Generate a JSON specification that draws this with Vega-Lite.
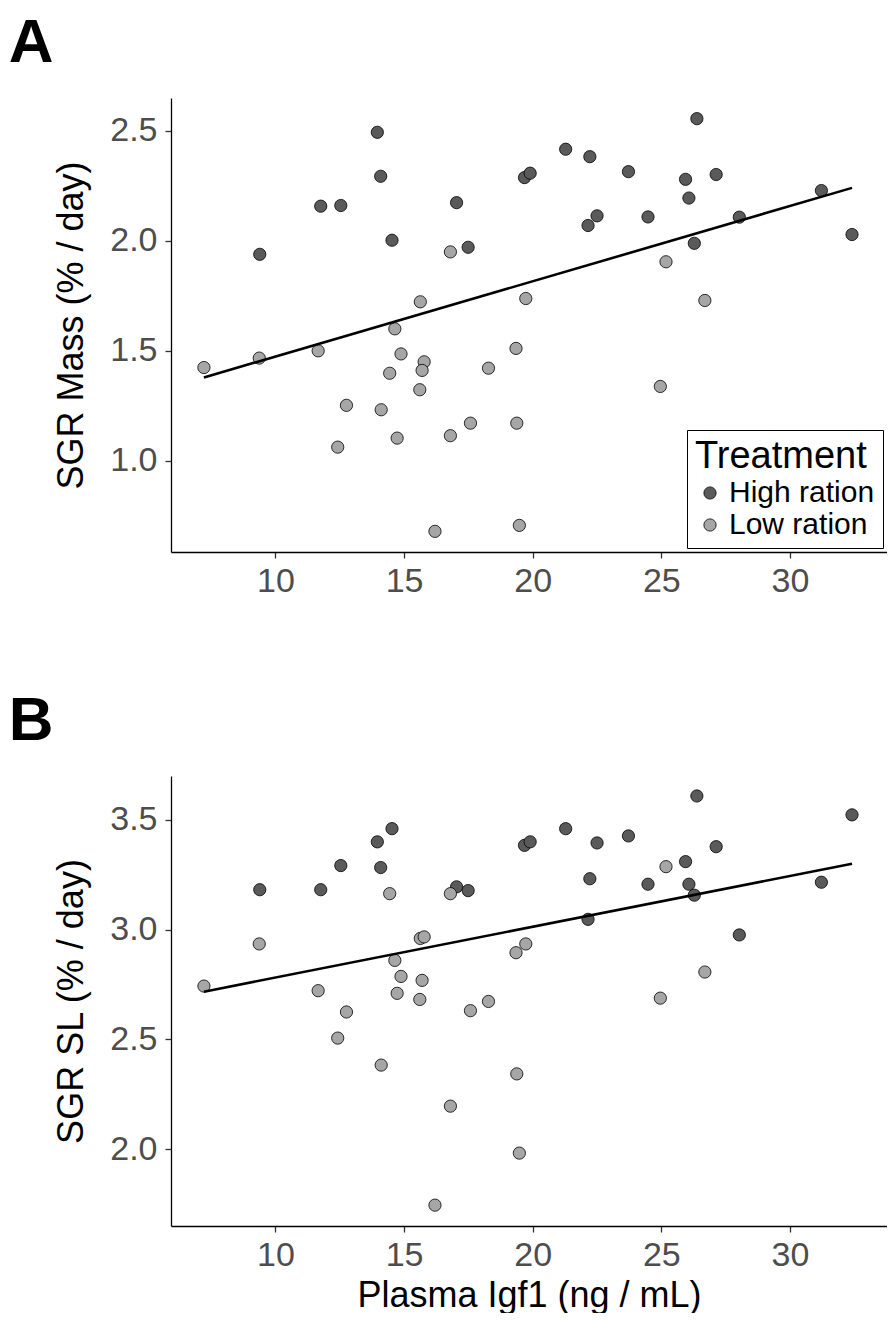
{
  "$schema": "https://vega.github.io/schema/vega-lite/v6.json",
  "padding": {"left": 8, "top": 12, "right": 0, "bottom": 0},
  "background": "white",
  "datasets": {
    "fish": [
      {"igf": 7.22, "mass": 1.424, "sl": 2.743, "treatment": "Low ration"},
      {"igf": 9.39, "mass": 1.939, "sl": 3.182, "treatment": "High ration"},
      {"igf": 9.37, "mass": 1.467, "sl": 2.935, "treatment": "Low ration"},
      {"igf": 11.76, "mass": 2.158, "sl": 3.182, "treatment": "High ration"},
      {"igf": 12.54, "mass": 2.161, "sl": 3.292, "treatment": "High ration"},
      {"igf": 11.66, "mass": 1.5, "sl": 2.722, "treatment": "Low ration"},
      {"igf": 12.76, "mass": 1.252, "sl": 2.625, "treatment": "Low ration"},
      {"igf": 12.42, "mass": 1.062, "sl": 2.506, "treatment": "Low ration"},
      {"igf": 13.96, "mass": 2.494, "sl": 3.4, "treatment": "High ration"},
      {"igf": 14.09, "mass": 2.294, "sl": 3.283, "treatment": "High ration"},
      {"igf": 14.53, "mass": 2.003, "sl": 3.46, "treatment": "High ration"},
      {"igf": 14.11, "mass": 1.232, "sl": 2.383, "treatment": "Low ration"},
      {"igf": 14.44, "mass": 1.398, "sl": 3.164, "treatment": "Low ration"},
      {"igf": 14.64, "mass": 1.6, "sl": 2.86, "treatment": "Low ration"},
      {"igf": 14.88, "mass": 1.486, "sl": 2.787, "treatment": "Low ration"},
      {"igf": 14.73, "mass": 1.103, "sl": 2.71, "treatment": "Low ration"},
      {"igf": 15.63, "mass": 1.723, "sl": 2.96, "treatment": "Low ration"},
      {"igf": 15.78, "mass": 1.45, "sl": 2.967, "treatment": "Low ration"},
      {"igf": 15.7, "mass": 1.411, "sl": 2.769, "treatment": "Low ration"},
      {"igf": 15.61, "mass": 1.323, "sl": 2.682, "treatment": "Low ration"},
      {"igf": 16.2, "mass": 0.679, "sl": 1.745, "treatment": "Low ration"},
      {"igf": 17.04, "mass": 2.174, "sl": 3.195, "treatment": "High ration"},
      {"igf": 16.8, "mass": 1.95, "sl": 3.164, "treatment": "Low ration"},
      {"igf": 17.49, "mass": 1.971, "sl": 3.178, "treatment": "High ration"},
      {"igf": 16.8, "mass": 1.114, "sl": 2.196, "treatment": "Low ration"},
      {"igf": 18.28, "mass": 1.421, "sl": 2.673, "treatment": "Low ration"},
      {"igf": 17.58, "mass": 1.171, "sl": 2.631, "treatment": "Low ration"},
      {"igf": 19.35, "mass": 1.511, "sl": 2.895, "treatment": "Low ration"},
      {"igf": 19.38, "mass": 1.171, "sl": 2.343, "treatment": "Low ration"},
      {"igf": 19.48, "mass": 0.706, "sl": 1.982, "treatment": "Low ration"},
      {"igf": 19.68, "mass": 2.288, "sl": 3.384, "treatment": "High ration"},
      {"igf": 19.9, "mass": 2.308, "sl": 3.4, "treatment": "High ration"},
      {"igf": 19.73, "mass": 1.738, "sl": 2.935, "treatment": "Low ration"},
      {"igf": 21.28, "mass": 2.417, "sl": 3.46, "treatment": "High ration"},
      {"igf": 22.22, "mass": 2.383, "sl": 3.232, "treatment": "High ration"},
      {"igf": 22.5, "mass": 2.114, "sl": 3.395, "treatment": "High ration"},
      {"igf": 22.15, "mass": 2.07, "sl": 3.047, "treatment": "High ration"},
      {"igf": 23.72, "mass": 2.315, "sl": 3.427, "treatment": "High ration"},
      {"igf": 24.48, "mass": 2.109, "sl": 3.207, "treatment": "High ration"},
      {"igf": 25.18, "mass": 1.905, "sl": 3.287, "treatment": "Low ration"},
      {"igf": 24.96, "mass": 1.338, "sl": 2.688, "treatment": "Low ration"},
      {"igf": 25.94, "mass": 2.28, "sl": 3.31, "treatment": "High ration"},
      {"igf": 26.07, "mass": 2.195, "sl": 3.207, "treatment": "High ration"},
      {"igf": 26.38, "mass": 2.556, "sl": 3.609, "treatment": "High ration"},
      {"igf": 26.28, "mass": 1.989, "sl": 3.157, "treatment": "High ration"},
      {"igf": 26.69, "mass": 1.729, "sl": 2.807, "treatment": "Low ration"},
      {"igf": 27.13, "mass": 2.302, "sl": 3.378, "treatment": "High ration"},
      {"igf": 28.03, "mass": 2.108, "sl": 2.976, "treatment": "High ration"},
      {"igf": 31.22, "mass": 2.229, "sl": 3.216, "treatment": "High ration"},
      {"igf": 32.41, "mass": 2.029, "sl": 3.523, "treatment": "High ration"}
    ]
  },
  "config": {
    "font": "Liberation Sans",
    "view": {"stroke": null},
    "axis": {
      "grid": false,
      "domainColor": "black",
      "domainWidth": 1.3,
      "tickColor": "#333333",
      "tickWidth": 1.3,
      "tickSize": 6,
      "labelFont": "Liberation Sans",
      "labelFontSize": 34,
      "labelColor": "#4d4d4d",
      "labelPadding": 6,
      "titleFont": "Liberation Sans",
      "titleFontSize": 36,
      "titleFontWeight": "normal",
      "titleColor": "black"
    },
    "title": {"font": "Liberation Sans", "fontSize": 62, "fontWeight": "bold", "color": "black", "anchor": "start", "frame": "bounds"}
  },
  "spacing": 92,
  "resolve": {"scale": {"fill": "independent"}, "legend": {"fill": "independent"}},
  "vconcat": [
    {
      "title": {"text": "A", "dx": -45, "offset": 23},
      "width": 716,
      "height": 454,
      "data": {"name": "fish"},
      "layer": [
        {
          "mark": {"type": "circle", "size": 150, "stroke": "black", "strokeWidth": 0.8, "opacity": 1},
          "encoding": {
            "x": {"field": "igf", "type": "quantitative", "scale": {"domain": [5.94, 33.77], "nice": false, "zero": false},
                  "axis": {"title": null, "values": [10, 15, 20, 25, 30]}},
            "y": {"field": "mass", "type": "quantitative", "scale": {"domain": [0.585, 2.65], "nice": false, "zero": false},
                  "axis": {"title": "SGR Mass (% / day)", "values": [1.0, 1.5, 2.0, 2.5], "format": ".1f", "labelPadding": 8, "titlePadding": 19}},
            "fill": {"field": "treatment", "type": "nominal",
                     "scale": {"domain": ["High ration", "Low ration"], "range": ["#5a5a5a", "#a6a6a6"]},
                     "legend": {"title": "Treatment", "orient": "bottom-right", "offset": 4, "strokeColor": "black", "fillColor": "white",
                                "padding": 8, "titleFontSize": 38, "titleFontWeight": "normal", "titleColor": "black",
                                "labelFontSize": 30, "labelColor": "black", "symbolType": "circle", "symbolSize": 150,
                                "symbolStrokeColor": "black", "symbolStrokeWidth": 0.8, "symbolOpacity": 1, "rowPadding": 2, "titlePadding": 2}}
          }
        },
        {
          "transform": [{"regression": "mass", "on": "igf"}],
          "mark": {"type": "line", "color": "black", "strokeWidth": 2.6},
          "encoding": {
            "x": {"field": "igf", "type": "quantitative"},
            "y": {"field": "mass", "type": "quantitative"}
          }
        }
      ]
    },
    {
      "title": {"text": "B", "dx": -45, "offset": 23},
      "width": 716,
      "height": 450,
      "data": {"name": "fish"},
      "layer": [
        {
          "mark": {"type": "circle", "size": 150, "stroke": "black", "strokeWidth": 0.8, "opacity": 1},
          "encoding": {
            "x": {"field": "igf", "type": "quantitative", "scale": {"domain": [5.94, 33.77], "nice": false, "zero": false},
                  "axis": {"title": "Plasma Igf1 (ng / mL)", "values": [10, 15, 20, 25, 30], "titlePadding": 6}},
            "y": {"field": "sl", "type": "quantitative", "scale": {"domain": [1.65, 3.7], "nice": false, "zero": false},
                  "axis": {"title": "SGR SL (% / day)", "values": [2.0, 2.5, 3.0, 3.5], "format": ".1f", "labelPadding": 8, "titlePadding": 19}},
            "fill": {"field": "treatment", "type": "nominal",
                     "scale": {"domain": ["High ration", "Low ration"], "range": ["#5a5a5a", "#a6a6a6"]},
                     "legend": null}
          }
        },
        {
          "transform": [{"regression": "sl", "on": "igf"}],
          "mark": {"type": "line", "color": "black", "strokeWidth": 2.6},
          "encoding": {
            "x": {"field": "igf", "type": "quantitative"},
            "y": {"field": "sl", "type": "quantitative"}
          }
        }
      ]
    }
  ]
}
